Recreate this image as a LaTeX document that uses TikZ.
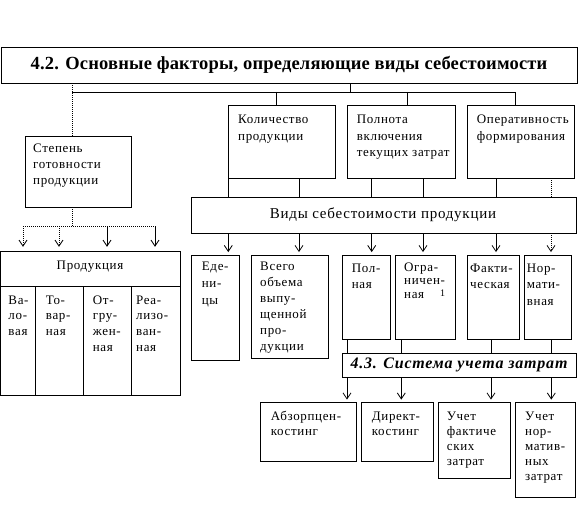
\documentclass[tikz,border=0pt]{standalone}
\usepackage{fontspec}
\setmainfont[LetterSpace=5]{Liberation Serif}
\newfontfamily\titlefont[LetterSpace=1]{Liberation Serif}
\usetikzlibrary{arrows.meta,fit,calc}
\newcommand\fsz[2]{\fontsize{#1bp}{#2bp}\selectfont}
\newcommand\lines[1]{\parbox[t]{150bp}{#1}}
\begin{document}
\begin{tikzpicture}[x=1bp,y=-1bp,
  bx/.style={draw, line width=0.8bp, inner sep=0pt},
  tx/.style={inner sep=0pt, anchor=base west, font=\fsz{13}{#1}},
  tx/.default=16.5,
  ln/.style={line width=0.8bp},
  dt/.style={line width=0.8bp, dash pattern=on 1bp off 1bp},
  ar/.style={-{Straight Barb[length=6bp,width=8bp]}},
]
\useasboundingbox (0,0) rectangle (586,522);

% boxes
\node[bx, fit={(1,47) (577,83)}] (tbox) {};
\node[bx, fit={(25,136) (131,207)}] (step) {};
\node[bx, fit={(0.5,251.7) (180,395)}] (prod) {};
\node[bx, fit={(228.3,105) (335.7,178)}] (kol) {};
\node[bx, fit={(347.7,105) (455,178)}] (poln) {};
\node[bx, fit={(467.5,105) (574,178)}] (oper) {};
\node[bx, fit={(191.7,197.7) (576.5,233)}] (vid) {};
\node[bx, fit={(191.7,255) (239.3,360)}] (eden) {};
\node[bx, fit={(251.7,255) (328,358.3)}] (vseg) {};
\node[bx, fit={(342.3,255) (390,339.3)}] (polna) {};
\node[bx, fit={(395,255) (455,339.3)}] (ogr) {};
\node[bx, fit={(467.3,255) (519.3,339.3)}] (fakt) {};
\node[bx, fit={(524,255) (571.7,339.3)}] (norm) {};
\node[bx, fit={(342.7,353.3) (576,377.3)}] (sys) {};
\node[bx, fit={(260.7,402) (356.7,461.7)}] (abz) {};
\node[bx, fit={(361,402) (433.3,461.7)}] (dir) {};
\node[bx, fit={(438.3,402) (510.5,478.2)}] (uf) {};
\node[bx, fit={(515.7,402) (575,497.5)}] (un) {};

% inner lines of Продукция
\coordinate (pd) at (0,286.7);
\draw[ln] (prod.west |- pd) -- (prod.east |- pd);
\coordinate (pc1) at (35.7,286.7);
\coordinate (pc2) at (83.3,286.7);
\coordinate (pc3) at (131.7,286.7);
\draw[ln] (pc1) -- (pc1 |- prod.south);
\draw[ln] (pc2) -- (pc2 |- prod.south);
\draw[ln] (pc3) -- (pc3 |- prod.south);

% texts
\node[inner sep=0pt, font=\titlefont\bfseries\fsz{18.5}{20}] (tt) at (tbox.center) {4.2. Основные факторы, определяющие виды себестоимости};
\node[tx=16] (stept) at (33,153) {\lines{Степень\\готовности\\продукции}};
\node[inner sep=0pt, font=\fsz{13}{16}] (prodt) at (90,267) {Продукция};
\node[tx=15.9] (c1t) at (8.3,304) {\lines{Ва-\\ло-\\вая}};
\node[tx=15.9] (c2t) at (45.7,304) {\lines{То-\\вар-\\ная}};
\node[tx=15.9] (c3t) at (92.7,304) {\lines{От-\\гру-\\жен-\\ная}};
\node[tx=15.9] (c4t) at (136,304) {\lines{Реа-\\лизо-\\ван-\\ная}};
\node[tx] (kolt) at (238,124) {\lines{Количество\\продукции}};
\node[tx] (polt) at (356.7,124) {\lines{Полнота\\включения\\текущих затрат}};
\node[tx] (opt) at (476.7,124) {\lines{Оперативность\\формирования}};
\node[inner sep=0pt, font=\fsz{15}{18}] (vidt) at (383,215) {Виды себестоимости продукции};
\node[tx=17] (edent) at (201.7,270.7) {\lines{Еде-\\ни-\\цы}};
\node[tx=15.9] (vsegt) at (260,270.7) {\lines{Всего\\объема\\выпу-\\щенной\\про-\\дукции}};
\node[tx=16] (polnat) at (351.7,272) {\lines{Пол-\\ная}};
\node[tx=13.5] (ogrt) at (404,271) {\lines{Огра-\\ничен-\\ная\hspace{16bp}\raisebox{2bp}{\fsz{10}{10}1}}};
\node[tx=16.3] (faktt) at (470,272) {\lines{Факти-\\ческая}};
\node[tx=16.7] (normt) at (526.7,272) {\lines{Нор-\\мати-\\вная}};
\node[inner sep=0pt, font=\bfseries\itshape\fsz{16}{18}] (syst) at (459,365) {4.3. Система учета затрат};
\node[tx=15] (abzt) at (270.7,420) {\lines{Абзорпцен-\\костинг}};
\node[tx=15] (dirt) at (371.7,420) {\lines{Директ-\\костинг}};
\node[tx=15.2] (uft) at (446.7,420) {\lines{Учет\\фактиче\\ских\\затрат}};
\node[tx=15.2] (unt) at (525,420) {\lines{Учет\\нор-\\матив-\\ных\\затрат}};

% top connectors
\coordinate (h0) at (350,92);
\coordinate (hL) at (72,92);
\coordinate (hK) at (276,92);
\coordinate (hP) at (407.5,92);
\coordinate (hR) at (515,92);
\draw[ln] (tbox.south -| h0) -- (h0);
\draw[ln] (hL) -- (hR) -- (hR |- oper.north);
\draw[ln] (hK) -- (hK |- kol.north);
\draw[ln] (hP) -- (hP |- poln.north);
\draw[dt] (tbox.south -| hL) -- (hL |- step.north);

% Степень -> Продукция
\coordinate (sJ) at (72,226);
\coordinate (a1) at (23,226);
\coordinate (a2) at (59,226);
\coordinate (a3) at (107,226);
\coordinate (a4) at (155,226);
\draw[dt] (step.south -| sJ) -- (sJ);
\draw[dt] (a1) -- (a4);
\draw[dt,ar] (a1) -- ($(a1 |- prod.north)+(0,-4.5)$);
\draw[dt,ar] (a2) -- ($(a2 |- prod.north)+(0,-4.5)$);
\draw[ln,ar] (a3) -- ($(a3 |- prod.north)+(0,-4.5)$);
\draw[ln,ar] (a4) -- ($(a4 |- prod.north)+(0,-4.5)$);

% upper boxes -> Виды
\coordinate (v1) at (228.3,197.7);
\coordinate (v2) at (299,197.7);
\coordinate (v3) at (371.7,197.7);
\coordinate (v4) at (423,197.7);
\coordinate (v5) at (496,197.7);
\coordinate (v6) at (551,197.7);
\draw[ln] (v1 |- kol.south) -- (v1);
\draw[ln] (v2 |- kol.south) -- (v2);
\draw[ln] (v3 |- poln.south) -- (v3);
\draw[ln] (v4 |- poln.south) -- (v4);
\draw[ln] (v5 |- oper.south) -- (v5);
\draw[dt] (v6 |- oper.south) -- (v6);

% Виды -> kinds
\draw[ln,ar] (v1 |- vid.south) -- ($(v1 |- eden.north)+(0,-2.5)$);
\draw[ln,ar] (v2 |- vid.south) -- ($(v2 |- vseg.north)+(0,-2.5)$);
\draw[ln,ar] (v3 |- vid.south) -- ($(v3 |- polna.north)+(0,-2.5)$);
\draw[ln,ar] (v4 |- vid.south) -- ($(v4 |- ogr.north)+(0,-2.5)$);
\draw[ln,ar] (v5 |- vid.south) -- ($(v5 |- fakt.north)+(0,-2.5)$);
\draw[dt,ar] (v6 |- vid.south) -- ($(v6 |- norm.north)+(0,-2.5)$);

% kinds -> 4.3
\coordinate (s1) at (347,353.3);
\coordinate (s2) at (401.3,353.3);
\coordinate (s3) at (491,353.3);
\coordinate (s4) at (551.3,353.3);
\draw[ln] (s1 |- polna.south) -- (s1);
\draw[ln] (s2 |- ogr.south) -- (s2);
\draw[ln] (s3 |- fakt.south) -- (s3);
\draw[ln] (s4 |- norm.south) -- (s4);

% 4.3 -> systems
\draw[ln,ar] (s1 |- sys.south) -- ($(s1 |- abz.north)+(0,-2)$);
\draw[ln,ar] (s2 |- sys.south) -- ($(s2 |- dir.north)+(0,-2)$);
\draw[ln,ar] (s3 |- sys.south) -- ($(s3 |- uf.north)+(0,-2)$);
\draw[ln,ar] (s4 |- sys.south) -- ($(s4 |- un.north)+(0,-2)$);
\end{tikzpicture}
\end{document}
